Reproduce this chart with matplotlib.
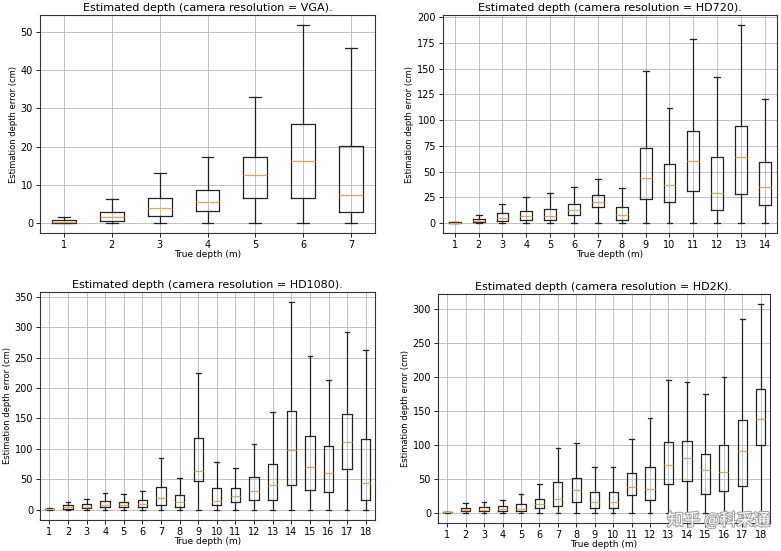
import matplotlib
matplotlib.use('Agg')
import matplotlib.pyplot as plt
import matplotlib.patheffects as pe

# Box statistics (cm): lower whisker, q1, median, q3, upper whisker
vga_q1 = [0.1, 0.5, 2.0, 3.1, 6.5, 6.7, 2.8]
vga_med = [0.4, 1.6, 4.0, 5.5, 12.7, 16.3, 7.4]
vga_q3 = [0.7, 2.9, 6.5, 8.8, 17.4, 25.9, 20.2]
vga_hi = [1.5, 6.4, 13.0, 17.2, 33.1, 51.8, 45.8]

hd720_q1 = [0.1, 0.8, 2.5, 3, 3, 7.5, 16, 3.5, 23.5, 21, 31.5, 13, 28.5, 18]
hd720_med = [0.5, 2.5, 5.5, 6.5, 7, 13, 20.5, 7.5, 43.5, 37.5, 60.5, 29, 64, 35.5]
hd720_q3 = [1, 4.5, 9.5, 12, 13.5, 19, 27, 16, 73.5, 57, 90, 64.5, 94.5, 59.5]
hd720_hi = [1.5, 8, 19, 25, 29.5, 35, 43, 34.5, 147.5, 112, 178.5, 142, 192.5, 121]

hd1080_q1 = [0.2, 1.5, 2, 4.5, 4, 5, 7, 5, 47, 7, 12, 16, 16, 41, 32.5, 29.5, 66, 16]
hd1080_med = [0.5, 3.5, 4.5, 8, 8, 9, 19, 13, 63.5, 13.5, 22, 30, 41, 98.5, 70.5, 60, 111, 44]
hd1080_q3 = [1.5, 7, 9, 14, 12.5, 16, 38, 24, 118.5, 36, 35.5, 53.5, 75, 163, 121, 104, 157.5, 115.5]
hd1080_hi = [2.5, 12, 17, 27, 25, 31, 85, 52, 225, 78, 68, 108, 161, 341, 252, 213.5, 293, 263]

hd2k_q1 = [0.2, 2, 2, 2.5, 3, 6.5, 9, 15.5, 6.5, 6.5, 25.5, 18, 41.5, 46, 28, 31.5, 39.5, 99]
hd2k_med = [0.5, 4, 4.5, 5, 5.5, 12, 20, 33, 15.5, 16, 37.5, 35, 69.5, 80, 63, 60.5, 91, 137.5]
hd2k_q3 = [1, 7, 8.5, 9, 12, 20.5, 44.5, 50.5, 30, 30, 58.5, 67, 103.5, 105, 87, 100, 137, 182]
hd2k_hi = [1.5, 14, 16, 18, 27, 42, 95, 102.5, 67, 67, 108, 140, 195, 193, 175, 200, 285, 307]

panels = [
    ('VGA', vga_q1, vga_med, vga_q3, vga_hi, [0.0512, 0.577, 0.429, 0.3956]),
    ('HD720', hd720_q1, hd720_med, hd720_q3, hd720_hi, [0.567, 0.577, 0.4277, 0.3956]),
    ('HD1080', hd1080_q1, hd1080_med, hd1080_q3, hd1080_hi, [0.0512, 0.0563, 0.429, 0.4138]),
    ('HD2K', hd2k_q1, hd2k_med, hd2k_q3, hd2k_hi, [0.5608, 0.0508, 0.425, 0.4156]),
]

fig = plt.figure(figsize=(7.81, 5.51), dpi=100)

for name, q1, med, q3, hi, rect in panels:
    ax = fig.add_axes(rect)
    stats = []
    for i in range(len(med)):
        stats.append({'whislo': 0, 'q1': q1[i], 'med': med[i], 'q3': q3[i],
                      'whishi': hi[i], 'fliers': []})
    ax.bxp(stats, showfliers=False,
           boxprops=dict(linewidth=0.9, color='#222222'),
           whiskerprops=dict(linewidth=0.9, color='#222222'),
           capprops=dict(linewidth=0.9, color='#222222'),
           medianprops=dict(color='#f5a04a', linewidth=0.9))
    ax.set_xticks(range(1, len(med) + 1))
    ax.set_xticklabels([str(i) for i in range(1, len(med) + 1)])
    ax.grid(True, color='#b8b8b8', linewidth=0.6)
    ax.set_axisbelow(True)
    ax.tick_params(labelsize=7, length=3, width=0.6, pad=2)
    for s in ax.spines.values():
        s.set_linewidth(0.8)
        s.set_color('#333333')
    ax.set_title('Estimated depth (camera resolution = %s).' % name, fontsize=8, pad=3)
    ax.set_xlabel('True depth (m)', fontsize=6.5, labelpad=0)
    ax.set_ylabel('Estimation depth error (cm)', fontsize=6, labelpad=2)

# watermark
fig.text(0.92, 0.055, '知乎 @科采通', fontsize=12, color='white', ha='center', va='center',
         family=['Noto Sans CJK SC', 'DejaVu Sans'],
         path_effects=[pe.withStroke(linewidth=1.5, foreground='#a0a0a0')])

fig.savefig('out.png', dpi=100)
